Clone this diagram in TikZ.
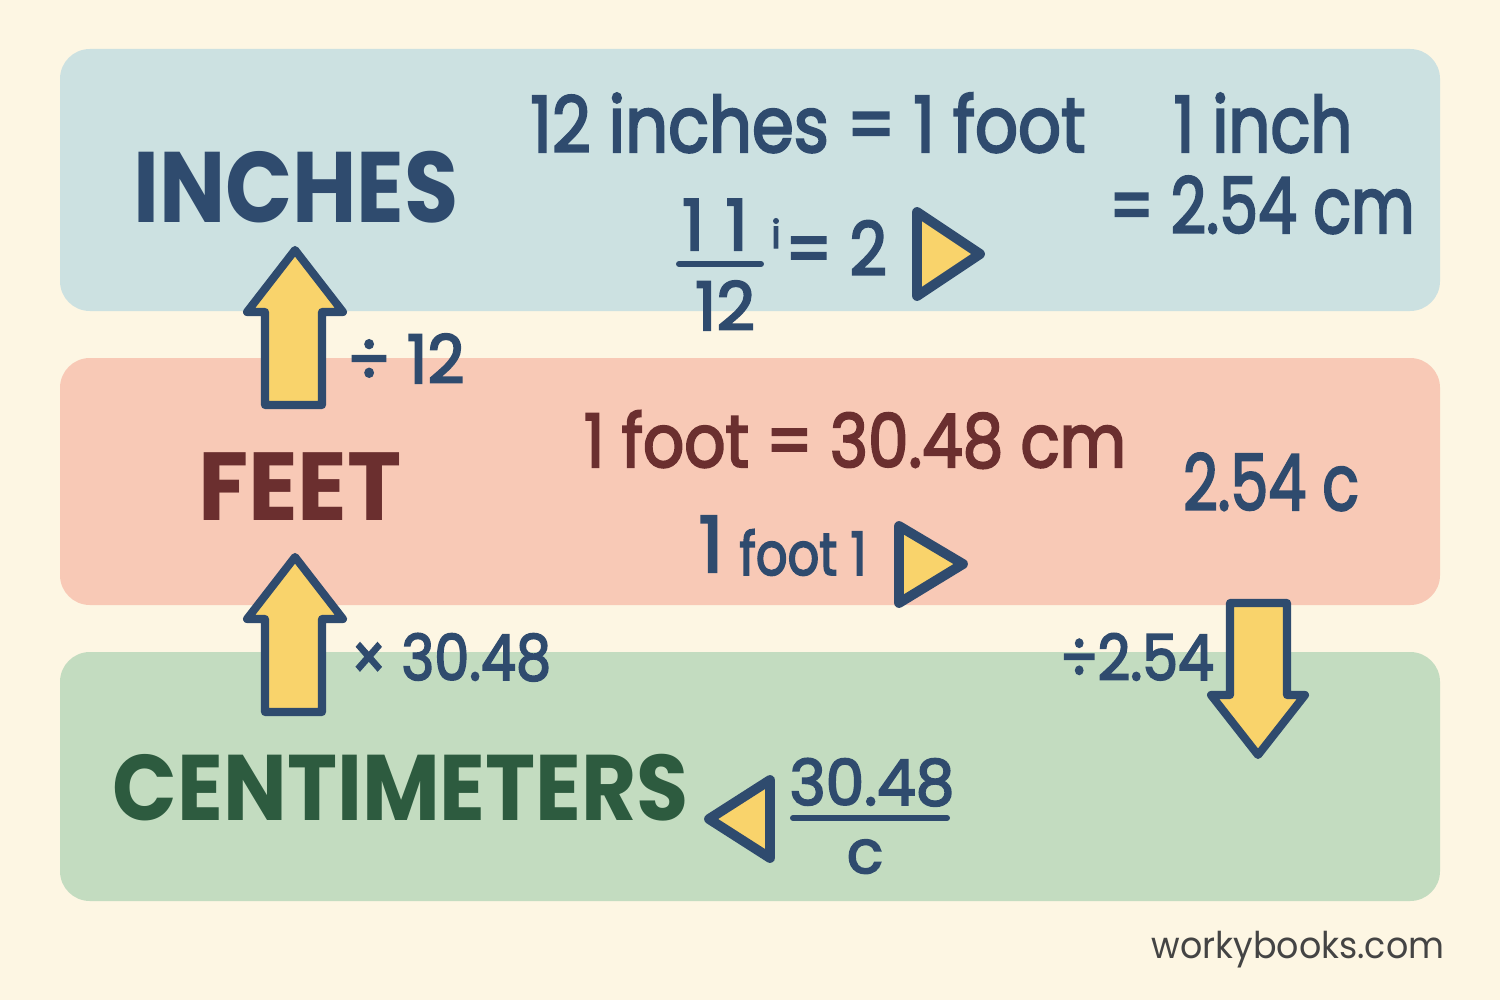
\documentclass[tikz,border=0pt]{standalone}
\usepackage{fontspec}
\setmainfont{Poppins}
\newfontfamily\medf{Poppins}[FakeBold=3]
\definecolor{bgc}{HTML}{FDF6E3}
\definecolor{bandA}{HTML}{CCE1E1}
\definecolor{bandB}{HTML}{F8C9B6}
\definecolor{bandC}{HTML}{C3DCC0}
\definecolor{navy}{HTML}{2F4B6E}
\definecolor{brownc}{HTML}{6B2F2F}
\definecolor{greenc}{HTML}{2D5B3F}
\definecolor{yel}{HTML}{F9D36B}
\definecolor{grayc}{HTML}{444444}
\newcommand{\fs}[1]{\fontsize{#1}{#1}\selectfont}
\newcommand{\sq}[2]{\scalebox{#1}[1]{#2}}
\tikzset{
  band/.style={rounded corners=17pt},
  txt/.style={inner sep=0pt, anchor=base, text=navy},
  ttl/.style={inner sep=0pt, anchor=base, font=\bfseries},
  bigarrow/.style={fill=yel, draw=navy, line width=4.6pt, line join=round},
  tri/.style={fill=yel, draw=navy, line width=5.6pt, line join=round},
  barline/.style={draw=navy, line width=3.4pt, line cap=round}
}
\begin{document}
\begin{tikzpicture}[x=0.02cm, y=-0.02cm]
\fill[bgc] (0,0) rectangle (1500,1000);
\useasboundingbox (0,0) rectangle (1500,1000);
% bands
\fill[bandA, band] (60,49) rectangle (1440,311);
\fill[bandB, band] (60,358) rectangle (1440,605);
\fill[bandC, band] (60,652) rectangle (1440,901);
% titles
\node[ttl, text=navy, font=\bfseries\fs{57}] (inches) at (296,222) {\sq{0.88}{INCHES}};
\node[ttl, text=brownc, font=\bfseries\fs{55}] (feet) at (300,520) {\sq{0.95}{FEET}};
\node[ttl, text=greenc, font=\bfseries\fs{53}] (cm) at (401,820) {\sq{0.91}{CENTIMETERS}};
% blue band texts
\node[txt, font=\medf\fs{44}] (t1) at (808,152) {\sq{0.87}{12 inches = 1 foot}};
\node[txt, font=\medf\fs{44}] (t2) at (1263,152) {\sq{0.85}{1 inch}};
\node[txt, font=\medf\fs{44}] (t3) at (1262,233) {\sq{0.8}{= 2.54 cm}};
\node[txt, font=\medf\fs{40}] (fn) at (715,250) {1\hspace{0.3em}1};
\coordinate (fb1) at (679,264);
\coordinate (fb2) at (761,264);
\draw[barline] (fb1) -- (fb2);
\node[txt, font=\medf\fs{38}] (fd) at (725,330) {12};
\node[txt, font=\medf\fs{22}] (fi) at (776,248) {i};
\node[txt, font=\medf\fs{42}] (eq2) at (836,275) {\sq{0.88}{= 2}};
\coordinate (ta1) at (917,212);
\coordinate (ta2) at (917,296);
\coordinate (ta3) at (980,254);
\draw[tri] (ta1) -- (ta3) -- (ta2) -- cycle;
% pink band texts
\node[txt, text=brownc, font=\medf\fs{42}] (t4) at (855,467) {\sq{0.874}{1 foot = 30.48 cm}};
\node[txt, font=\medf\fs{44}] (t5) at (1271,510) {\sq{0.78}{2.54 c}};
\node[txt, font=\medf\fs{44}] (t6) at (711,572) {1};
\node[txt, font=\medf\fs{34}] (t7) at (803,575) {\sq{0.83}{foot 1}};
\coordinate (tb1) at (899,526);
\coordinate (tb2) at (899,603);
\coordinate (tb3) at (963,564);
\draw[tri] (tb1) -- (tb3) -- (tb2) -- cycle;
% green band texts
\node[txt, font=\medf\fs{36}] (num) at (872,805) {\sq{0.97}{30.48}};
\coordinate (cb1) at (793,818);
\coordinate (cb2) at (947,818);
\draw[barline] (cb1) -- (cb2);
\node[txt, font=\medf\fs{34}] (den) at (865,873) {c};
\coordinate (tc1) at (770,780);
\coordinate (tc2) at (770,858);
\coordinate (tc3) at (709,819);
\draw[tri] (tc1) -- (tc3) -- (tc2) -- cycle;
% arrows
\draw[bigarrow] (265,405) -- (265,312) -- (247,312) -- (295,250) -- (343,312) -- (322,312) -- (322,405) -- cycle;
\draw[bigarrow] (265,712) -- (265,619) -- (247,619) -- (295,557) -- (343,619) -- (322,619) -- (322,712) -- cycle;
\draw[bigarrow] (1230,603) -- (1287,603) -- (1287,695) -- (1305,695) -- (1258,755) -- (1211,695) -- (1230,695) -- cycle;
% arrow labels
\node[txt, font=\medf\fs{38}] (l1) at (406,383) {\sq{0.96}{÷ 12}};
\node[txt, font=\medf\fs{36}] (l2) at (451,680) {\sq{0.88}{× 30.48}};
\node[txt, font=\medf\fs{36}] (l3) at (1137,680) {\sq{0.9}{÷2.54}};
% footer
\node[txt, text=grayc, font=\fs{21}] (wb) at (1298,958) {\sq{0.945}{workybooks.com}};
\end{tikzpicture}
\end{document}
